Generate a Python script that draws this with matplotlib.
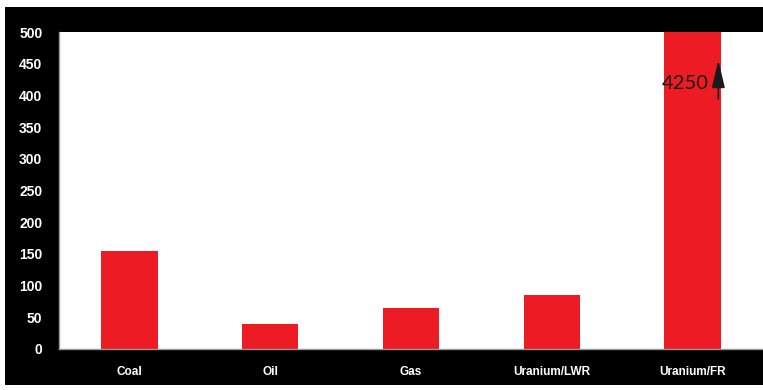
import matplotlib
matplotlib.use("Agg")
import matplotlib.pyplot as plt
from matplotlib.patches import Rectangle

categories = ["Coal", "Oil", "Gas", "Uranium/LWR", "Uranium/FR"]
values = [155, 40, 65, 85, 4250]
yticks = [0, 50, 100, 150, 200, 250, 300, 350, 400, 450, 500]
annotation_text = "4250"

W, H = 763, 390
fig = plt.figure(figsize=(W / 100, H / 100), dpi=100)
fig.patch.set_facecolor("white")
fig.patches.append(Rectangle((5 / W, 5 / H), 758 / W, 378 / H,
                             transform=fig.transFigure, facecolor="black",
                             edgecolor="none", zorder=-10))

ax = fig.add_axes([59 / W, 41 / H, 704 / W, 317 / H])
ax.set_zorder(1)
ax.set_facecolor("white")
x = list(range(len(categories)))
ax.bar(x, values, width=0.4, color="#ED1C24", zorder=2)
ax.set_xlim(-0.5, 4.5)
ax.set_ylim(0, 500)
ax.set_yticks(yticks)
ax.set_yticklabels([str(v) for v in yticks], color="white",
                   fontfamily="Liberation Sans", fontweight="bold", fontsize=10)
ax.set_xticks(x)
ax.set_xticklabels(categories, color="white", fontfamily="Liberation Sans",
                   fontweight="bold", fontsize=8.5)
ax.tick_params(axis="both", length=0)
ax.tick_params(axis="y", pad=12)
ax.tick_params(axis="x", pad=12)
for s in ["top", "right"]:
    ax.spines[s].set_visible(False)
for s in ["left", "bottom"]:
    ax.spines[s].set_color("#999999")
    ax.spines[s].set_linewidth(1)

ax.annotate("", xy=(4.183, 460), xytext=(4.183, 390),
            arrowprops=dict(arrowstyle="-|>,head_length=0.85,head_width=0.2",
                            color="#1a1a1a", lw=1.2, mutation_scale=20),
            zorder=5)
ax.text(3.945, 418, annotation_text, fontfamily="Lato", fontsize=14.5,
        color="#1a1a1a", ha="center", va="center", zorder=5)

fig.savefig("out.png", dpi=100, facecolor=fig.get_facecolor())
